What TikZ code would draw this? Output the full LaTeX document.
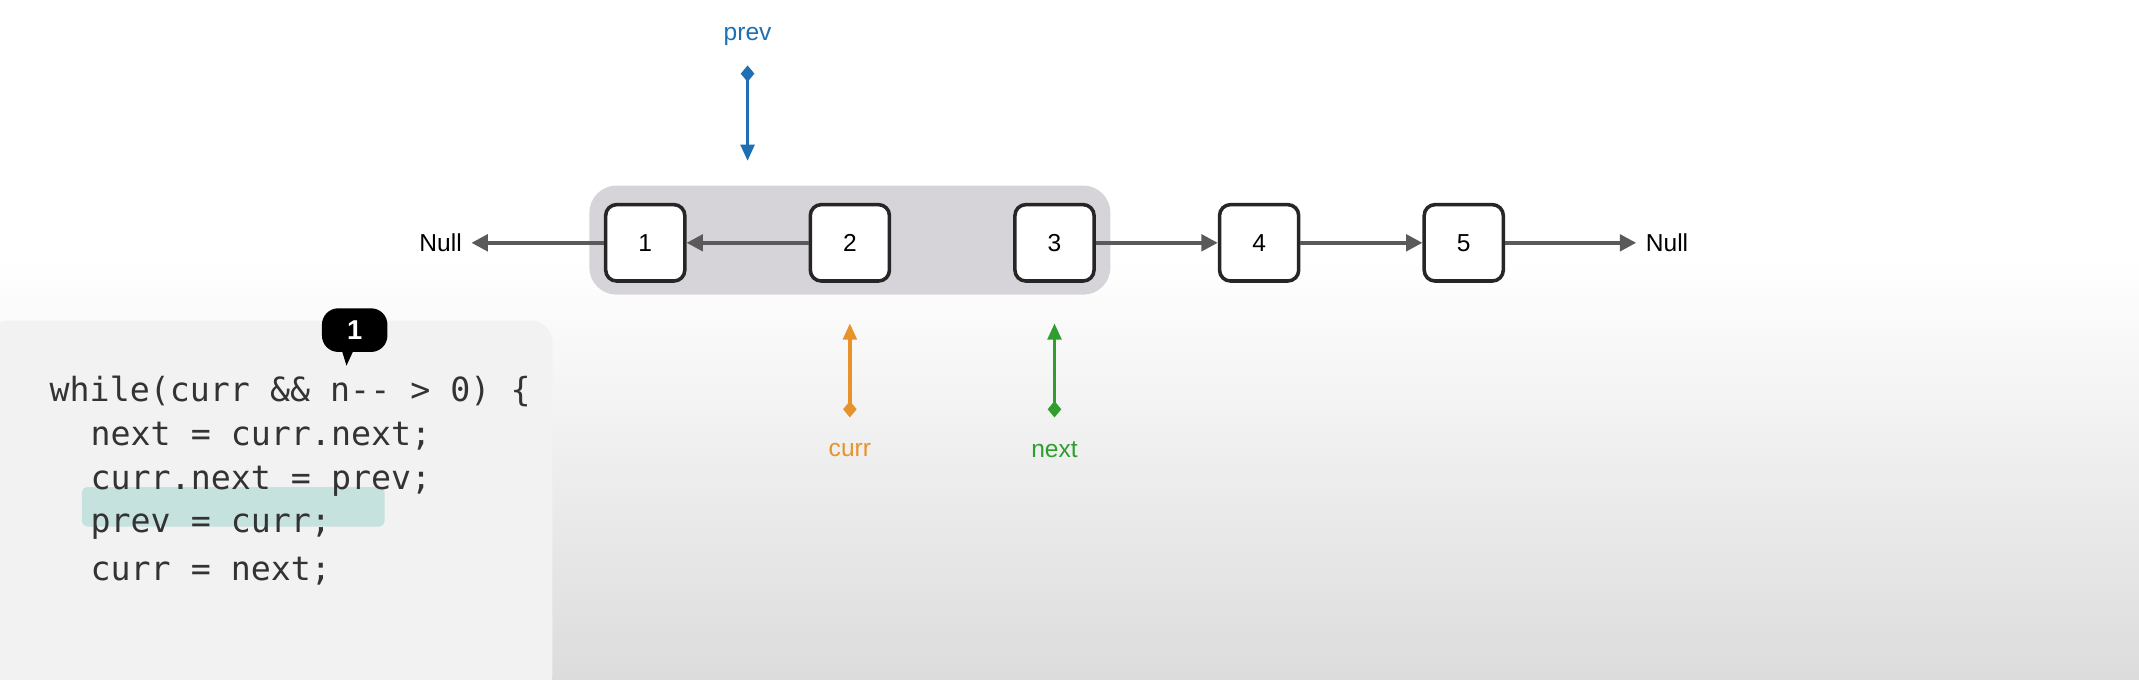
\documentclass[tikz,border=0pt]{standalone}
\usepackage{fontspec}
\setmainfont{Liberation Sans}
\newfontfamily\codefont{DejaVu Sans Mono}
\usetikzlibrary{arrows.meta,shapes.geometric}
\definecolor{bgtop}{HTML}{FFFFFF}
\definecolor{bgbot}{HTML}{DCDCDC}
\definecolor{band}{HTML}{D6D4D8}
\definecolor{edge}{HTML}{5A5A5A}
\definecolor{pblue}{HTML}{1F6FB5}
\definecolor{corange}{HTML}{E8922A}
\definecolor{ngreen}{HTML}{2F9E2F}
\definecolor{panel}{HTML}{F2F2F2}
\definecolor{hl}{HTML}{C6E2DE}
\tikzset{
  lnode/.style={draw=black!85,line width=1.3pt,fill=white,rounded corners=4pt,minimum width=29pt,minimum height=28pt,inner sep=0pt,font=\fontsize{9}{10}\selectfont},
  link/.style={draw=edge,line width=1.4pt,-{Triangle[length=6pt,width=6pt]}},
  ptr/.style={line width=1.3pt,{Triangle[length=6pt,width=5pt]}-{Diamond[length=6pt,width=5pt]}},
  lbl/.style={font=\fontsize{9}{10}\selectfont},
  code/.style={anchor=west,font=\codefont\fontsize{12.2}{14}\selectfont,text=black!80,inner sep=0pt}
}
\begin{document}
\begin{tikzpicture}[x=0.5pt,y=-0.5pt]
\useasboundingbox (0,0) rectangle (1568,498);
\shade[top color=bgtop,bottom color=bgbot] (0,0) rectangle (1568,498);
\fill[white] (0,0) rectangle (1568,190);
\shade[top color=white,bottom color=bgbot] (0,190) rectangle (1568,498);
% band
\fill[band,rounded corners=10pt] (432,136) rectangle (814,216);
% nodes
\node[lnode] (n1) at (473,178) {1};
\node[lnode] (n2) at (623,178) {2};
\node[lnode] (n3) at (773,178) {3};
\node[lnode] (n4) at (923,178) {4};
\node[lnode] (n5) at (1073,178) {5};
\node[lbl] (nl) at (323,178) {Null};
\node[lbl] (nr) at (1222,178) {Null};
\draw[link] (n1) -- (nl);
\draw[link] (n2) -- (n1);
\draw[link] (n3) -- (n4);
\draw[link] (n4) -- (n5);
\draw[link] (n5) -- (nr);
% pointers
\node[lbl,text=pblue] (pl) at (548,27) {prev};
\coordinate (pa) at (548,118);
\coordinate (pd) at (548,48);
\draw[ptr,pblue] (pa) -- (pd);
\node[lbl,text=corange] (cl) at (623,330) {curr};
\coordinate (ca) at (623,237);
\coordinate (cd) at (623,306);
\draw[ptr,corange] (ca) -- (cd);
\node[lbl,text=ngreen] (xl) at (773,330) {next};
\coordinate (xa) at (773,237);
\coordinate (xd) at (773,306);
\draw[ptr,ngreen] (xa) -- (xd);
% code panel
\fill[panel,rounded corners=8pt] (-10,235) rectangle (405,510);
\fill[hl,rounded corners=2pt] (60,357) rectangle (282,386);
\node[code] (c1) at (36,287) {while(curr \&\& n-{}- > 0) \{};
\node[code] (c2) at (66,320) {next = curr.next;};
\node[code] (c3) at (66,353) {curr.next = prev;};
\node[code] (c4) at (66,386) {prev = curr;};
\node[code] (c5) at (66,419) {curr = next;};
% badge
\fill[black] (250,255) -- (254,268) -- (260,255) -- cycle;
\node[fill=black,text=white,rounded corners=6pt,minimum width=24pt,minimum height=16pt,inner sep=0pt,font=\bfseries\fontsize{10}{10}\selectfont] (b) at (260,242) {1};
\end{tikzpicture}
\end{document}
